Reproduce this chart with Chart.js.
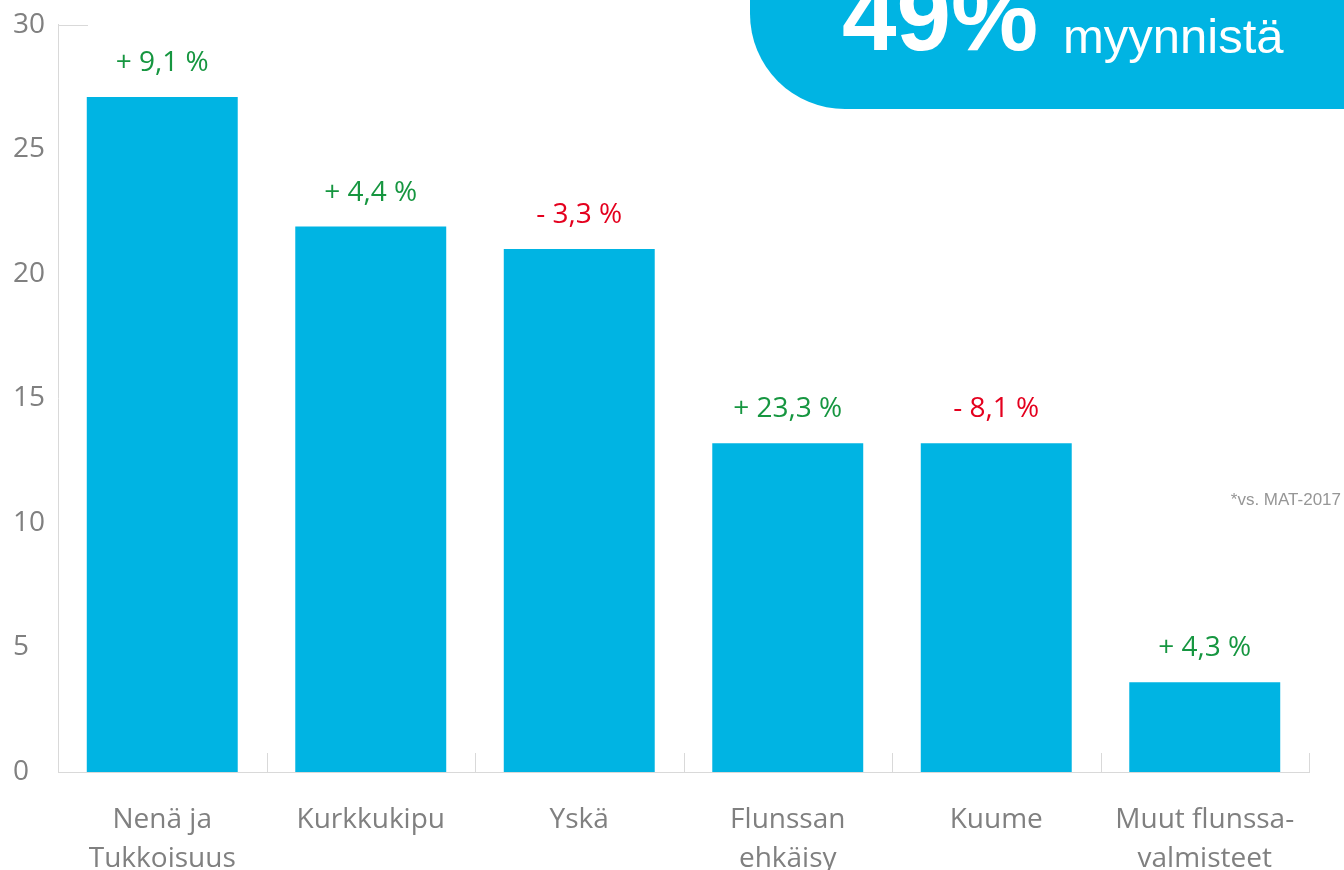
<!DOCTYPE html>
<html>
<head>
<meta charset="utf-8">
<script src="https://cdn.jsdelivr.net/npm/chart.js@4"></script>
<style>
  body { margin: 0; background: #fff; }
  #wrap { width: 1344px; height: 870px; position: relative; }
</style>
</head>
<body>
<div id="wrap"><canvas id="chart" width="1344" height="870"></canvas></div>
<script>
    // data
    const categories = [
    ['Nenä ja', 'Tukkoisuus'],
    'Kurkkukipu',
    'Yskä',
    ['Flunssan', 'ehkäisy'],
    'Kuume',
    ['Muut flunssa-', 'valmisteet']
];
    const shares = [27.1, 21.9, 21.0, 13.2, 13.2, 3.6];
    const changes = [9.1, 4.4, -3.3, 23.3, -8.1, 4.3];
    const yTicks = [0, 5, 10, 15, 20, 25, 30];

    const COLORS = {
    bar: 'rgb(0, 180, 227)',
    up: 'rgb(22, 150, 64)',
    down: 'rgb(228, 0, 30)',
    text: 'rgb(128, 128, 128)',
    axis: 'rgb(217, 217, 217)'
};
    const FONT = '"Open Sans", "Noto Sans", sans-serif';

    function formatChange(v) {
    const sign = v < 0 ? '- ' : '+ ';
    return sign + Math.abs(v).toFixed(1).replace('.', ',') + ' %';
}

    // change labels above bars, axis marks, callout box
    const decorations = {
    id: 'decorations',
    afterDatasetsDraw(chart) {
    const ctx = chart.ctx;
    const area = chart.chartArea;
    const x = chart.scales.x;
    const y = chart.scales.y;

    ctx.save();
    // small upward ticks between categories
    ctx.strokeStyle = COLORS.axis;
    ctx.lineWidth = 1;
    ctx.beginPath();
    for (let i = 0; i < categories.length; i++) {
    let px = i < categories.length - 1 ? (x.getPixelForValue(i) + x.getPixelForValue(i + 1)) / 2 : area.right;
    px = Math.round(px) + 0.5;
    ctx.moveTo(px, area.bottom);
    ctx.lineTo(px, area.bottom - 19);
}
    // short mark at the top of the value axis
    const topY = Math.round(y.getPixelForValue(yTicks[yTicks.length - 1])) + 0.5;
    ctx.moveTo(area.left, topY);
    ctx.lineTo(area.left + 30, topY);
    ctx.stroke();

    // change labels
    const meta = chart.getDatasetMeta(0);
    ctx.font = '28px ' + FONT;
    ctx.textAlign = 'center';
    ctx.textBaseline = 'middle';
    meta.data.forEach((bar, i) => {
    ctx.fillStyle = changes[i] < 0 ? COLORS.down : COLORS.up;
    ctx.fillText(formatChange(changes[i]), bar.x, bar.y - 34);
});

    // footnote
    ctx.font = '17px "Liberation Sans", Arial, sans-serif';
    ctx.fillStyle = 'rgb(150, 150, 150)';
    ctx.textAlign = 'right';
    ctx.fillText('*vs. MAT-2017', 1341, 500);

    // callout box top right
    ctx.fillStyle = COLORS.bar;
    ctx.beginPath();
    ctx.roundRect(750, -250, 700, 359, [0, 0, 0, 95]);
    ctx.fill();
    ctx.fillStyle = '#fff';
    ctx.textAlign = 'left';
    ctx.textBaseline = 'alphabetic';
    ctx.font = 'bold 98px "Liberation Sans", Arial, sans-serif';
    ctx.fillText('49%', 842, 50);
    ctx.font = '49px "Liberation Sans", Arial, sans-serif';
    ctx.fillText('myynnistä', 1063, 53);
    ctx.restore();
}
};

    new Chart(document.getElementById('chart').getContext('2d'), {
    type: 'bar',
    data: {
    labels: categories,
    datasets: [{
    data: shares,
    backgroundColor: COLORS.bar,
    borderWidth: 0,
    categoryPercentage: 1,
    barPercentage: 0.724
}]
},
    options: {
    responsive: false,
    devicePixelRatio: 1,
    animation: false,
    layout: {
    padding: { left: 13, right: 35, top: 24, bottom: 0 }
},
    plugins: {
    legend: { display: false },
    tooltip: { enabled: false }
},
    scales: {
    x: {
    grid: { display: false },
    border: { display: true, color: COLORS.axis, width: 1 },
    ticks: {
    color: COLORS.text,
    padding: 20,
    maxRotation: 0,
    autoSkip: false,
    font: { family: FONT, size: 28, lineHeight: 1.4 }
},
    afterFit(scale) { scale.height = 98; }
},
    y: {
    min: yTicks[0],
    max: yTicks[yTicks.length - 1],
    grid: { display: false },
    border: { display: true, color: COLORS.axis, width: 1 },
    afterBuildTicks(scale) { scale.ticks = yTicks.map(v => ({ value: v })); },
    ticks: {
    color: COLORS.text,
    crossAlign: 'far',
    padding: 8,
    font: { family: FONT, size: 28 }
},
    afterFit(scale) { scale.width = 45; }
}
}
},
    plugins: [decorations]
});
</script>
</body>
</html>
